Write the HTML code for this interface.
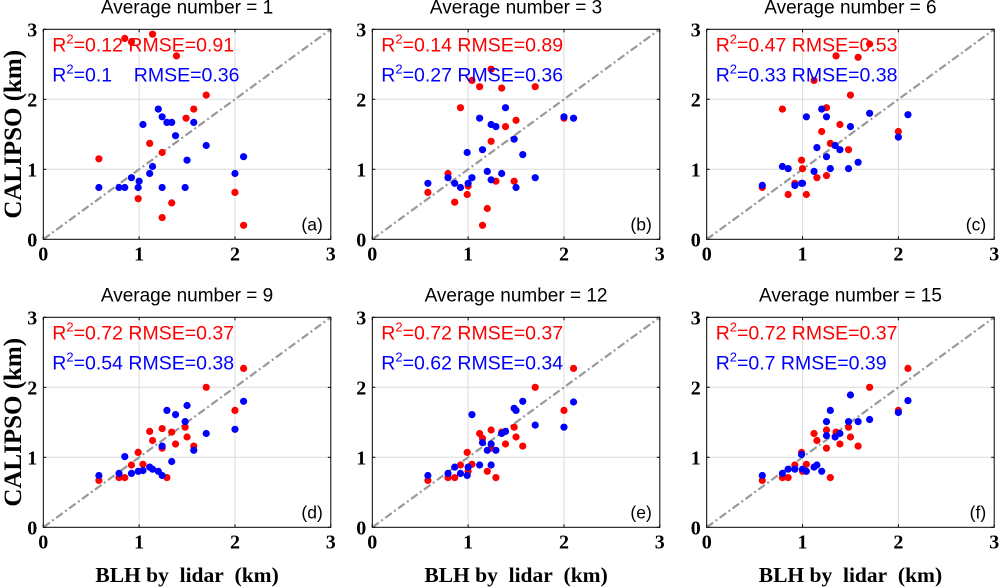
<!DOCTYPE html>
<html><head><meta charset="utf-8"><style>
html,body{margin:0;padding:0;background:#fff;}
svg{display:block;}
text{white-space:pre;}
</style></head><body>
<svg id="fig" width="999" height="587" viewBox="0 0 999 587" xmlns="http://www.w3.org/2000/svg"></svg>
<script>
const titles = ["Average number = 1","Average number = 3","Average number = 6","Average number = 9","Average number = 12","Average number = 15"];
const letters = ["(a)","(b)","(c)","(d)","(e)","(f)"];
const redStats = [["0.12","0.91"],["0.14","0.89"],["0.47","0.53"],["0.72","0.37"],["0.72","0.37"],["0.72","0.37"]];
const blueStats = [["0.1\u00a0\u00a0\u00a0","0.36"],["0.27","0.36"],["0.33","0.38"],["0.54","0.38"],["0.62","0.34"],["0.7","0.39"]];
const ticks = [0,1,2,3];
const tickLabels = ["0","1","2","3"];

const redA_x=[0.85,1.14,0.92,1.39,1.70,1.57,1.49,1.11,1.24,0.58,0.99,1.34,1.24,2.0,2.09];
const redA_y=[2.87,2.93,2.82,2.62,2.06,1.86,1.73,1.37,1.24,1.15,0.58,0.52,0.31,0.67,0.20];
const blueA_x=[0.58,0.79,0.85,0.92,0.99,1.0,1.11,1.14,1.04,1.20,1.24,1.29,1.34,1.38,1.24,1.48,1.50,1.57,1.70,2.0,2.09];
const blueA_y=[0.74,0.74,0.74,0.88,0.74,0.83,0.94,1.04,1.64,1.86,1.75,1.67,1.67,1.48,0.74,0.74,1.13,1.67,1.34,0.94,1.18];

const redB_x=[1.04,1.12,1.24,1.35,1.70,0.92,1.39,1.50,1.24,2.0,0.79,0.58,1.0,0.99,0.86,1.20,1.15,1.29,1.48];
const redB_y=[2.27,2.18,2.43,2.16,2.18,1.88,1.61,1.70,1.40,1.73,0.94,0.67,0.76,0.64,0.53,0.44,0.20,0.83,0.83];
const blueB_x=[0.58,0.79,0.86,0.92,1.0,1.04,1.20,1.24,1.35,1.50,1.70,0.99,1.15,1.12,1.24,1.29,1.39,1.48,1.57,2.0,2.10];
const blueB_y=[0.80,0.88,0.80,0.74,0.80,0.88,0.97,0.85,0.94,0.74,0.88,1.24,1.28,1.73,1.64,1.61,1.88,1.43,1.21,1.75,1.73];

const redC_x=[1.70,1.35,1.58,1.12,1.50,0.79,1.25,1.39,1.20,2.0,1.29,1.48,0.99,1.0,1.15,1.25,0.92,0.58,0.85,1.04];
const redC_y=[2.79,2.62,2.60,2.27,2.06,1.86,1.88,1.64,1.54,1.54,1.37,1.28,1.13,1.01,0.88,0.91,0.80,0.74,0.64,0.64];
const blueC_x=[0.58,0.79,0.85,0.92,0.99,1.0,1.12,1.15,1.04,1.20,1.25,1.25,1.34,1.39,1.29,1.48,1.50,1.58,1.70,2.0,2.10];
const blueC_y=[0.77,1.04,1.01,0.77,0.80,0.80,0.97,1.31,1.75,1.86,1.75,1.18,1.34,1.28,1.01,1.01,1.61,1.10,1.80,1.46,1.78];

const redD_x=[2.09,1.70,2.0,1.11,1.24,1.14,1.34,1.48,1.50,1.38,1.24,1.57,0.99,1.04,0.92,0.58,0.79,0.85,1.29];
const redD_y=[2.27,2.0,1.67,1.37,1.41,1.24,1.36,1.43,1.29,1.19,1.13,1.16,1.07,0.90,0.89,0.67,0.71,0.71,0.71];
const blueD_x=[2.09,2.0,1.70,1.50,1.29,1.38,1.48,1.24,1.57,1.34,0.85,0.58,0.79,0.92,0.99,1.04,1.11,1.14,1.20,1.24];
const blueD_y=[1.80,1.40,1.34,1.74,1.67,1.61,1.51,1.16,1.10,0.94,1.01,0.74,0.77,0.77,0.80,0.81,0.86,0.83,0.80,0.74];

const redE_x=[2.10,1.70,2.0,1.12,1.24,1.15,1.35,1.48,1.50,1.39,1.24,1.57,0.99,1.04,0.92,0.58,0.79,0.86,1.29,1.20,1.0];
const redE_y=[2.27,2.0,1.67,1.34,1.39,1.27,1.36,1.43,1.29,1.19,1.13,1.16,1.07,0.90,0.89,0.67,0.71,0.71,0.71,0.80,0.80];
const blueE_x=[2.10,2.0,1.70,1.57,1.48,1.50,1.04,1.35,1.39,1.15,1.24,1.20,1.29,1.12,1.24,0.86,1.0,0.58,0.79,0.92,0.99];
const blueE_y=[1.79,1.43,1.46,1.80,1.70,1.67,1.61,1.34,1.37,1.21,1.19,1.10,1.10,0.89,0.89,0.86,0.86,0.74,0.77,0.77,0.74];

const redF_x=[2.10,1.70,2.0,1.12,1.25,1.15,1.35,1.48,1.50,1.39,1.25,1.58,0.99,1.04,0.92,0.58,0.79,0.85,1.29,1.0];
const redF_y=[2.27,2.0,1.67,1.34,1.39,1.24,1.36,1.43,1.29,1.19,1.13,1.16,1.07,0.90,0.89,0.67,0.71,0.71,0.71,0.80];
const blueF_x=[2.10,2.0,1.70,1.50,1.29,1.25,1.48,1.58,1.25,1.34,1.39,0.99,0.58,0.79,0.85,0.92,1.0,1.04,1.12,1.15,1.20];
const blueF_y=[1.81,1.64,1.54,1.89,1.67,1.51,1.51,1.51,1.31,1.29,1.34,1.04,0.74,0.77,0.83,0.83,0.83,0.80,0.86,0.89,0.80];

const redX=[redA_x,redB_x,redC_x,redD_x,redE_x,redF_x];
const redY=[redA_y,redB_y,redC_y,redD_y,redE_y,redF_y];
const blueX=[blueA_x,blueB_x,blueC_x,blueD_x,blueE_x,blueF_x];
const blueY=[blueA_y,blueB_y,blueC_y,blueD_y,blueE_y,blueF_y];

const NS="http://www.w3.org/2000/svg";
const svg=document.getElementById('fig');
function mk(tag,attrs,parent){const e=document.createElementNS(NS,tag);for(const k in attrs)e.setAttribute(k,attrs[k]);(parent||svg).appendChild(e);return e;}
const lefts=[43.3,372.3,706.7];
const W=287.5;
const tops=[29.3,317.3];
const H=210;
const SERIF='"Liberation Serif", serif', SANS='"Liberation Sans", Arial, sans-serif';

for(let p=0;p<6;p++){
  const L=lefts[p%3], T=tops[Math.floor(p/3)], B=T+H, R=L+W;
  const xs=v=>L+v/3*W, ys=v=>B-v/3*H;
  const g=mk('g',{});
  
  
  ticks.forEach((t,i)=>{
    if(i>0&&i<3){
      const gx=mk('line',{x1:xs(t),x2:xs(t),y1:T,y2:B,stroke:'#dcdcdc','stroke-width':1},g);
      
      
      const gy=mk('line',{x1:L,x2:R,y1:ys(t),y2:ys(t),stroke:'#dcdcdc','stroke-width':1},g);
      
      
    }
    mk('line',{x1:xs(t),x2:xs(t),y1:B,y2:B-3,stroke:'#000'},g);
    mk('line',{x1:xs(t),x2:xs(t),y1:T,y2:T+3,stroke:'#000'},g);
    mk('line',{x1:L,x2:L+3,y1:ys(t),y2:ys(t),stroke:'#000'},g);
    mk('line',{x1:R,x2:R-3,y1:ys(t),y2:ys(t),stroke:'#000'},g);
    const xt=mk('text',{x:xs(t),y:B+21,'text-anchor':'middle','font-family':SERIF,'font-weight':'bold','font-size':20},g);
    xt.textContent=tickLabels[i];
    
    
    const yt=mk('text',{x:L-6,y:ys(t)+7,'text-anchor':'end','font-family':SERIF,'font-weight':'bold','font-size':20},g);
    yt.textContent=tickLabels[i];
    
    
  });
  const d=mk('line',{x1:xs(0),y1:ys(0),x2:xs(3),y2:ys(3),stroke:'#999','stroke-width':2.2,'stroke-dasharray':'8 3 2 3'},g);
  
  
  redX[p].forEach((v,i)=>{
    const c=mk('circle',{cx:xs(v),cy:ys(redY[p][i]),r:3.6,fill:'#ff0000'},g);
    
    
  });
  blueX[p].forEach((v,i)=>{
    const c=mk('circle',{cx:xs(v),cy:ys(blueY[p][i]),r:3.6,fill:'#0000ff'},g);
    
    
  });
  const bx=mk('rect',{x:L,y:T,width:W,height:H,fill:'none',stroke:'#000','stroke-width':1},g);
  
  
  const tt=mk('text',{x:L+W/2,y:T-16,'text-anchor':'middle','font-family':SANS,'font-size':19},g);
  tt.textContent=titles[p];
  
  
  const rs=mk('text',{x:L+9,y:T+22,'font-family':SANS,'font-size':19.5,fill:'#ff0000'},g);
  rs.innerHTML='R<tspan dy="-8" font-size="13">2</tspan><tspan dy="8">='+redStats[p][0]+' RMSE='+redStats[p][1]+'</tspan>';
  
  
  const bs=mk('text',{x:L+9,y:T+52,'font-family':SANS,'font-size':19.5,fill:'#0000ff'},g);
  bs.innerHTML='R<tspan dy="-8" font-size="13">2</tspan><tspan dy="8">='+blueStats[p][0]+' RMSE='+blueStats[p][1]+'</tspan>';
  
  
  const lt=mk('text',{x:R-8,y:B-9,'text-anchor':'end','font-family':SANS,'font-size':17.5},g);
  lt.textContent=letters[p];
  
  
  if(p%3===0){
    const yl=mk('text',{x:0,y:0,transform:'translate(21,'+(T+H/2)+') rotate(-90)','text-anchor':'middle','font-family':SERIF,'font-weight':'bold','font-size':25},g);
    yl.textContent='CALIPSO (km)';
    
    
  }
  if(p>=3){
    const xl=mk('text',{x:L+W/2,y:582,'text-anchor':'middle','font-family':SERIF,'font-weight':'bold','font-size':21.5},g);
    xl.textContent='BLH by\u00a0 lidar\u00a0 (km)';
    
    
  }
}
</script>
</body></html>
